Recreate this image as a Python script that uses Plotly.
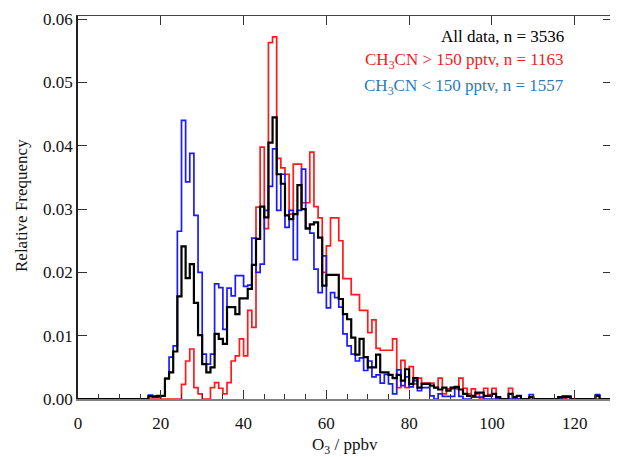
import plotly.graph_objects as go

# O3 bin left edges (ppbv), 1 ppbv bins
o3_bins = list(range(0, 129))

all_data = [0]*17 + [
    0.0004, 0.0004, 0.0005, 0.0005, 0.0032, 0.0042, 0.0075, 0.0162, 0.0241, 0.0191,  # 17-26
    0.0213, 0.0152, 0.0101, 0.0055, 0.0042, 0.0050, 0.0103, 0.0095, 0.0087, 0.0145,  # 27-36
    0.0145, 0.0134, 0.0159, 0.0159, 0.0174, 0.0212, 0.0253, 0.0304, 0.0287, 0.0405,  # 37-46
    0.0445, 0.0355, 0.0340, 0.0290, 0.0284, 0.0292, 0.0338, 0.0300, 0.0269, 0.0276,  # 47-56
    0.0279, 0.0255, 0.0179, 0.0196, 0.0196, 0.0196, 0.0158, 0.0134, 0.0126, 0.0097,  # 57-66
    0.0070, 0.0095, 0.0066, 0.0050, 0.0050, 0.0070, 0.0042, 0.0042, 0.0038, 0.0033,  # 67-76
    0.0038, 0.0029, 0.0047, 0.0024, 0.0033, 0.0018, 0.0024, 0.0024, 0.0021, 0.0018,  # 77-86
    0.0015, 0.0018, 0.0013, 0.0018, 0.0019, 0.0015, 0.0008, 0.0005, 0.0005, 0.0010,  # 87-96
    0.0010, 0.0005, 0.0005, 0.0008, 0.0003, 0.0, 0.0, 0.0008, 0.0003, 0.0005,        # 97-106
    0.0, 0.0, 0.0003, 0.0, 0.0, 0.0, 0.0, 0.0, 0.0, 0.0003,                          # 107-116
    0.0003, 0.0003, 0.0, 0.0, 0.0, 0.0, 0.0, 0.0, 0.0005, 0.0,                        # 117-126
    0.0, 0.0]                                                                        # 127-128

high_ch3cn = [0]*25 + [
    0.0023, 0.0060, 0.0079, 0.0018, 0.0008, 0.0, 0.0, 0.0018, 0.0026, 0.0017,        # 25-34
    0.0008, 0.0026, 0.0060, 0.0068, 0.0095, 0.0068, 0.0140, 0.0113, 0.0303, 0.0398,  # 35-44
    0.0269, 0.0563, 0.0572, 0.0380, 0.0365, 0.0355, 0.0292, 0.0371, 0.0371, 0.0310,  # 45-54
    0.0310, 0.0390, 0.0304, 0.0286, 0.0200, 0.0242, 0.0286, 0.0286, 0.0250, 0.0190,  # 55-64
    0.0190, 0.0165, 0.0165, 0.0140, 0.0140, 0.0105, 0.0125, 0.0080, 0.0077, 0.0077,  # 65-74
    0.0077, 0.0095, 0.0018, 0.0061, 0.0018, 0.0051, 0.0024, 0.0033, 0.0025, 0.0025,  # 75-84
    0.0025, 0.0018, 0.0033, 0.0008, 0.0016, 0.0016, 0.0016, 0.0033, 0.0017, 0.0008,  # 85-94
    0.0016, 0.0008, 0.0, 0.0017, 0.0007, 0.0017, 0.0, 0.0, 0.0, 0.0017,              # 95-104
    0.0, 0.0, 0.0, 0.0, 0.0002, 0.0, 0.0, 0.0, 0.0, 0.0,                              # 105-114
    0.0, 0.0, 0.0, 0.0005, 0.0, 0.0, 0.0, 0.0, 0.0, 0.0,                              # 115-124
    0.0, 0.0, 0.0, 0.0]                                                              # 125-128

low_ch3cn = [0]*17 + [
    0.0006, 0.0003, 0.0003, 0.0005, 0.0033, 0.0066, 0.0084, 0.0265, 0.0440, 0.0343,  # 17-26
    0.0388, 0.0290, 0.0200, 0.0071, 0.0055, 0.0071, 0.0182, 0.0176, 0.0110, 0.0175,  # 27-36
    0.0163, 0.0195, 0.0195, 0.0178, 0.0180, 0.0254, 0.0200, 0.0213, 0.0298, 0.0336,  # 37-46
    0.0395, 0.0298, 0.0355, 0.0271, 0.0298, 0.0220, 0.0298, 0.0363, 0.0270, 0.0262,  # 47-56
    0.0205, 0.0168, 0.0226, 0.0144, 0.0168, 0.0160, 0.0145, 0.0103, 0.0084, 0.0071,  # 57-66
    0.0060, 0.0065, 0.0045, 0.0060, 0.0035, 0.0038, 0.0025, 0.0039, 0.0024, 0.0008,  # 67-76
    0.0046, 0.0021, 0.0035, 0.0019, 0.0029, 0.0013, 0.0018, 0.0018, 0.0005, 0.0,     # 77-86
    0.0008, 0.0004, 0.0004, 0.0004, 0.0018, 0.0004, 0.0, 0.0, 0.0003, 0.0003,        # 87-96
    0.0003, 0.0, 0.0, 0.0, 0.0, 0.0, 0.0, 0.0, 0.0, 0.0,                              # 97-106
    0.0, 0.0, 0.0007, 0.0, 0.0, 0.0, 0.0, 0.0, 0.0, 0.0,                              # 107-116
    0.0005, 0.0005, 0.0, 0.0, 0.0, 0.0, 0.0, 0.0, 0.0007, 0.0,                        # 117-126
    0.0, 0.0]                                                                        # 127-128

bin_width = 1

legend_lines = ["All data, n = 3536",
                "CH<sub>3</sub>CN &gt; 150 pptv, n = 1163",
                "CH<sub>3</sub>CN &lt; 150 pptv, n = 1557"]
legend_colors = ["#000000", "#ee1c1c", "#2b7bba"]

FONT = "Liberation Serif, Times New Roman, serif"

# the page body has an 8px margin, so work in figure coords = screen - 8
OFF = 8
W, H = 618 - OFF, 457 - OFF
L, R, T, B = 78 - OFF, 612 - OFF, 16 - OFF, 399 - OFF


def step(vals):
    xs = o3_bins + [o3_bins[-1] + bin_width]
    ys = list(vals) + [vals[-1]]
    return xs, ys


fig = go.Figure()
for vals, col, w in [(high_ch3cn, "#ff1a1a", 1.7),
                     (low_ch3cn, "#1a1aff", 1.7),
                     (all_data, "#000000", 2.2)]:
    xs, ys = step(vals)
    fig.add_trace(go.Scatter(x=xs, y=ys, mode="lines",
                             line=dict(color=col, width=w, shape="hv"),
                             showlegend=False, hoverinfo="skip"))

# invisible trace on the top axis for mirrored major ticks
fig.add_trace(go.Scatter(x=[0], y=[0], xaxis="x2", mode="markers",
                         marker=dict(opacity=0), showlegend=False, hoverinfo="skip"))


def py(p):
    return (B - (p - OFF)) / (B - T)


def px(p):
    return ((p - OFF) - L) / (R - L)


for txt, col, ypx in zip(legend_lines, legend_colors, [36, 61, 87]):
    fig.add_annotation(x=px(566), xref="paper", y=py(ypx), yref="paper",
                       text=txt, showarrow=False, xanchor="right", yanchor="middle",
                       font=dict(family=FONT, size=17, color=col))

# axis titles
fig.add_annotation(x=0.5, xref="paper", y=py(446), yref="paper",
                   text="O<sub>3</sub> / ppbv", showarrow=False,
                   xanchor="center", yanchor="middle",
                   font=dict(family=FONT, size=17, color="#111"))
fig.add_annotation(x=px(21), xref="paper", y=py(206), yref="paper",
                   text="Relative Frequency", showarrow=False, textangle=-90,
                   xanchor="center", yanchor="middle",
                   font=dict(family=FONT, size=17, color="#111"))

fig.update_layout(
    width=W, height=H,
    margin=dict(l=L, r=W - R, t=T, b=H - B, autoexpand=False),
    paper_bgcolor="white", plot_bgcolor="white",
    font=dict(family=FONT, size=16, color="#111"),
    xaxis=dict(range=[0, 129], showgrid=False, zeroline=False, automargin=False,
               showline=True, linecolor="#808080", linewidth=1.5,
               ticks="inside", ticklen=9, tickcolor="#333", tickwidth=1.2,
               dtick=20, tick0=0, ticklabelstandoff=8,
               minor=dict(ticks="inside", ticklen=5, dtick=5, tick0=0,
                          tickcolor="#333", tickwidth=1.2, showgrid=False),
               tickfont=dict(family=FONT, size=17, color="#111")),
    xaxis2=dict(range=[0, 129], overlaying="x", side="top", showgrid=False,
                zeroline=False, showline=True, linecolor="#444", linewidth=1.2,
                automargin=False,
                ticks="inside", ticklen=9, tickcolor="#333", dtick=20, tick0=0,
                showticklabels=False),
    yaxis=dict(range=[0, 0.0605], showgrid=False, zeroline=False, automargin=False,
               showline=True, linecolor="#222", linewidth=1.5, mirror="ticks",
               ticks="inside", ticklen=9, tickcolor="#333", tickwidth=1.2,
               dtick=0.01, tick0=0, tickformat=".2f",
               tickfont=dict(family=FONT, size=17, color="#111")),
)

fig.write_html("out.html")
